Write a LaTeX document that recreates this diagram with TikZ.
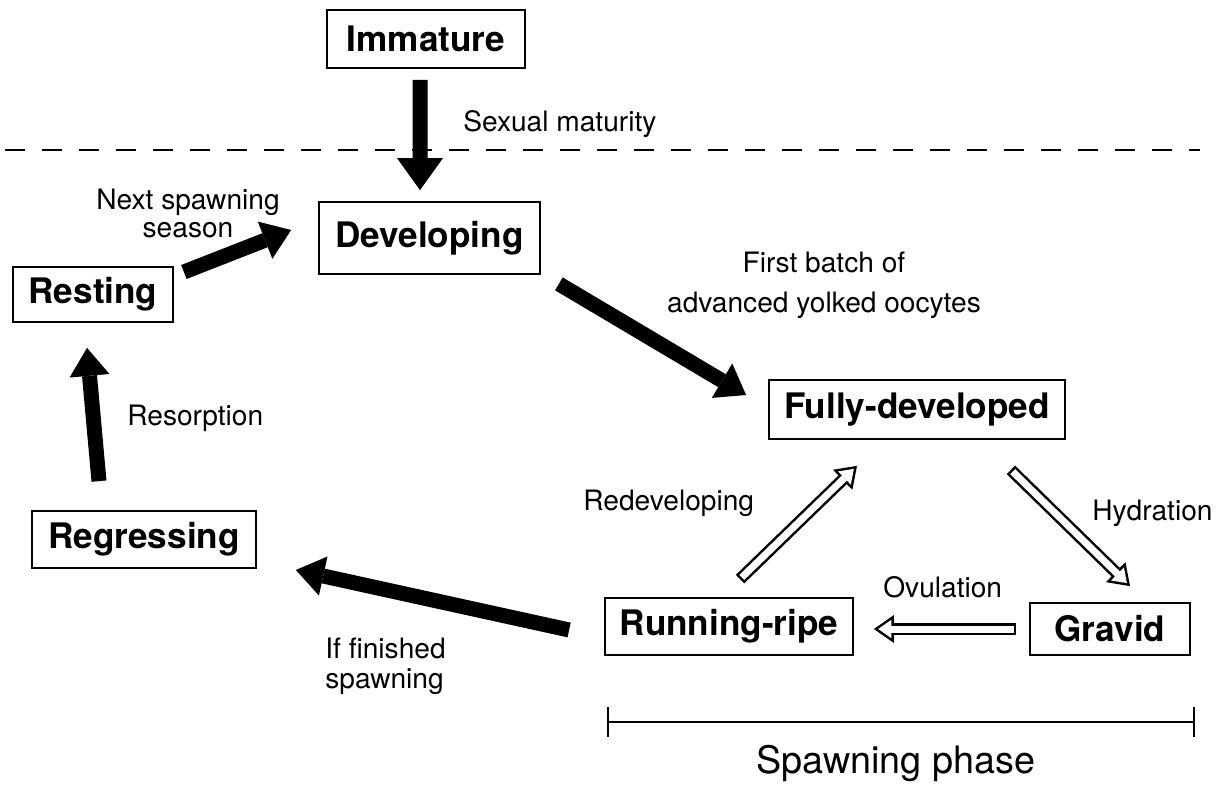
\documentclass[tikz,border=0pt]{standalone}
\usepackage{fontspec}
\setmainfont{TeX Gyre Heros}
\usetikzlibrary{positioning,arrows.meta}

\begin{document}
\begin{tikzpicture}[
box/.style={rectangle,draw,line width=1pt,inner sep=0pt,minimum height=1.14cm,
font=\fontsize{20}{24}\selectfont\bfseries},
lbl/.style={inner sep=0pt,font=\fontsize{16}{19}\selectfont},
arrow/.style={line width=0.3cm,-{Triangle[length=0.56cm,width=0.8cm,line width=0pt]}},
hollow/.style={line width=0.24cm,-{Triangle[length=0.4cm,width=0.56cm,line width=0pt]}},
hollowin/.style={white,line width=0.14cm,shorten <=0.05cm,shorten >=0.087cm,
-{Triangle[length=0.263cm,width=0.368cm,line width=0pt]}}
]
\useasboundingbox (0,0) rectangle (24.42,15.84);
% stages
\node[box,minimum width=3.96cm,minimum height=1.16cm] (imm) at (8.52,15.06) {Immature};
\node[box,minimum width=4.42cm,minimum height=1.44cm] (dev) at (8.59,11.08) {Developing};
\node[box,minimum width=3.2cm,minimum height=1.1cm] (rest) at (1.86,9.95) {Resting};
\node[box,minimum width=4.48cm] (regr) at (2.88,5.05) {Regressing};
\node[box,minimum width=5.92cm,minimum height=1.18cm] (full) at (18.34,7.65) {Fully-developed};
\node[box,minimum width=4.96cm] (run) at (14.58,3.31) {Running-ripe};
\node[box,minimum width=3.2cm,minimum height=1.04cm] (grav) at (22.2,3.26) {Gravid};
% maturity line
\draw[line width=1pt,dash pattern=on 0.4cm off 0.34cm] (0.1,12.84) -- (24.0,12.84);
% black arrows
\draw[arrow,shorten <=0.22cm,shorten >=0.22cm,-{Triangle[length=0.64cm,width=0.92cm,line width=0pt]}] ([xshift=-0.12cm]imm.south) -- ([xshift=-0.19cm]dev.north);
\draw[arrow] ([xshift=0.2cm,yshift=0.45cm]rest.east) -- ([xshift=-0.54cm,yshift=0.16cm]dev.west);
\draw[arrow] ([xshift=0.36cm,yshift=-0.18cm]dev.south east) -- ([xshift=-0.44cm,yshift=0.29cm]full.west);
\draw[arrow] ([xshift=-0.7cm,yshift=-0.07cm]run.west) -- ([xshift=0.78cm,yshift=-0.61cm]regr.east);
\draw[arrow] ([xshift=-0.9cm,yshift=0.58cm]regr.north) -- ([xshift=-0.12cm,yshift=-0.5cm]rest.south);
% open arrows of the spawning phase
\draw[hollow] ([xshift=0.22cm,yshift=0.36cm]run.north) -- ([xshift=-1.2cm,yshift=-0.52cm]full.south);
\draw[hollowin] ([xshift=0.22cm,yshift=0.36cm]run.north) -- ([xshift=-1.2cm,yshift=-0.52cm]full.south);
\draw[hollow] ([xshift=-1.1cm,yshift=-0.6cm]full.south east) -- ([xshift=0.4cm,yshift=0.32cm]grav.north);
\draw[hollowin] ([xshift=-1.1cm,yshift=-0.6cm]full.south east) -- ([xshift=0.4cm,yshift=0.32cm]grav.north);
\draw[hollow] ([xshift=-0.26cm]grav.west) -- ([xshift=0.4cm,yshift=-0.05cm]run.east);
\draw[hollowin] ([xshift=-0.26cm]grav.west) -- ([xshift=0.4cm,yshift=-0.05cm]run.east);
% labels
\node[lbl,anchor=base west] (matu) at (9.26,13.2) {Sexual maturity};
\node[lbl,anchor=north,align=center,font=\fontsize{16}{15.6}\selectfont] (next) at (3.76,12.06) {Next spawning\\season};
\node[lbl,anchor=north,align=center,font=\fontsize{16}{22.8}\selectfont] (batch) at (16.48,10.8) {First batch of\\advanced yolked oocytes};
\node[lbl,anchor=base west] (reso) at (2.54,7.34) {Resorption};
\node[lbl,anchor=base west] (rede) at (11.66,5.64) {Redeveloping};
\node[lbl,anchor=base west] (hydr) at (21.84,5.44) {Hydration};
\node[lbl,anchor=base west] (ovul) at (17.66,3.9) {Ovulation};
\node[lbl,anchor=north west,align=left,font=\fontsize{16}{17}\selectfont] (fini) at (6.5,3.08) {If finished\\spawning};
% spawning phase bar
\coordinate (spL) at (12.14,1.4);
\coordinate (spR) at (23.9,1.4);
\draw[line width=0.9pt,{Bar[width=0.6cm]}-{Bar[width=0.6cm]}] (spL) -- (spR);
\node[lbl,anchor=base,font=\fontsize{21.5}{26}\selectfont] (phase) at (17.92,0.38) {Spawning phase};
\end{tikzpicture}
\end{document}
